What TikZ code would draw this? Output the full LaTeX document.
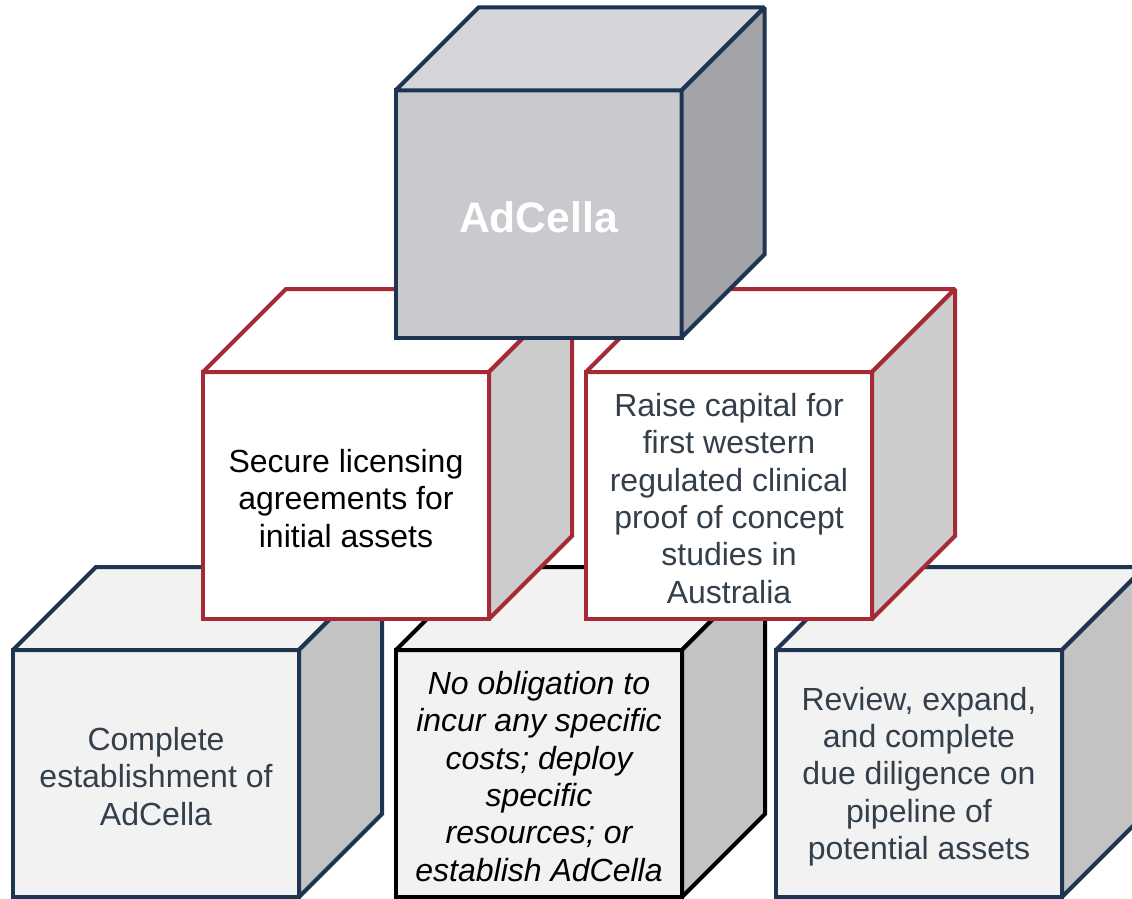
\documentclass[tikz,border=0pt]{standalone}
\usepackage{fontspec}
\setmainfont{Liberation Sans}
\usetikzlibrary{calc}
\definecolor{navy}{HTML}{1E3450}
\definecolor{crimson}{HTML}{A52A35}
\definecolor{slate}{HTML}{333F4A}
\definecolor{topfront}{HTML}{C9CACE}
\definecolor{toptop}{HTML}{D5D6DA}
\definecolor{topside}{HTML}{A3A4A8}
\definecolor{midside}{HTML}{CCCCCC}
\definecolor{botfront}{HTML}{F2F2F2}
\definecolor{botside}{HTML}{C3C3C3}
\newcommand{\mycube}[6]{%
  % #1 name, #2 position, #3 face style, #4 top fill, #5 side fill, #6 text
  \node[face, #3] (#1) at (#2) {};
  \draw[edge, #3, fill=#4] (#1.north west) -- ++(83,-83) -- ($(#1.north east)+(83,-83)$) -- (#1.north east) -- cycle;
  \draw[edge, #3, fill=#5] (#1.north east) -- ++(83,-83) -- ($(#1.south east)+(83,-83)$) -- (#1.south east) -- cycle;
  \node[face, #3, draw=none, fill=none] at ($(#2)+(0,3)$) {#6};
}
\tikzset{
  edge/.style={line width=3pt, line join=miter, miter limit=1.5},
  face/.style={edge, rectangle, minimum width=286*0.75pt, minimum height=247*0.75pt, inner sep=0pt, outer sep=0pt, align=center, font=\fontsize{24}{28}\selectfont},
  bluecube/.style={draw=navy, fill=botfront, text=slate},
  blackcube/.style={draw=black, fill=botfront, text=black, font=\fontsize{24}{28}\selectfont\itshape},
  redcube/.style={draw=crimson, fill=white},
  topcube/.style={draw=navy, fill=topfront, text=white, font=\fontsize{32}{36}\selectfont\bfseries},
}
\begin{document}
\begin{tikzpicture}[x=0.75pt, y=-0.75pt]
\useasboundingbox (0,0) rectangle (1132,899);
\clip (0,0) rectangle (1132,899);
\fill[white] (0,0) rectangle (1132,899);
% bottom row
\mycube{bl}{156,773.5}{bluecube}{botfront}{botside}{Complete\\establishment of\\AdCella}
\mycube{bm}{539,773.5}{blackcube}{botfront}{botside}{No obligation to\\incur any specific\\costs; deploy\\specific\\resources; or\\establish AdCella}
\mycube{br}{919,773.5}{bluecube}{botfront}{botside}{Review, expand,\\and complete\\due diligence on\\pipeline of\\potential assets}
% middle row
\mycube{ml}{346,495.5}{redcube, text=black}{white}{midside}{Secure licensing\\agreements for\\initial assets}
\mycube{mr}{729,495.5}{redcube, text=slate}{white}{midside}{Raise capital for\\first western\\regulated clinical\\proof of concept\\studies in\\Australia}
% top
\mycube{top}{538.5,214}{topcube}{toptop}{topside}{AdCella}
\end{tikzpicture}
\end{document}
